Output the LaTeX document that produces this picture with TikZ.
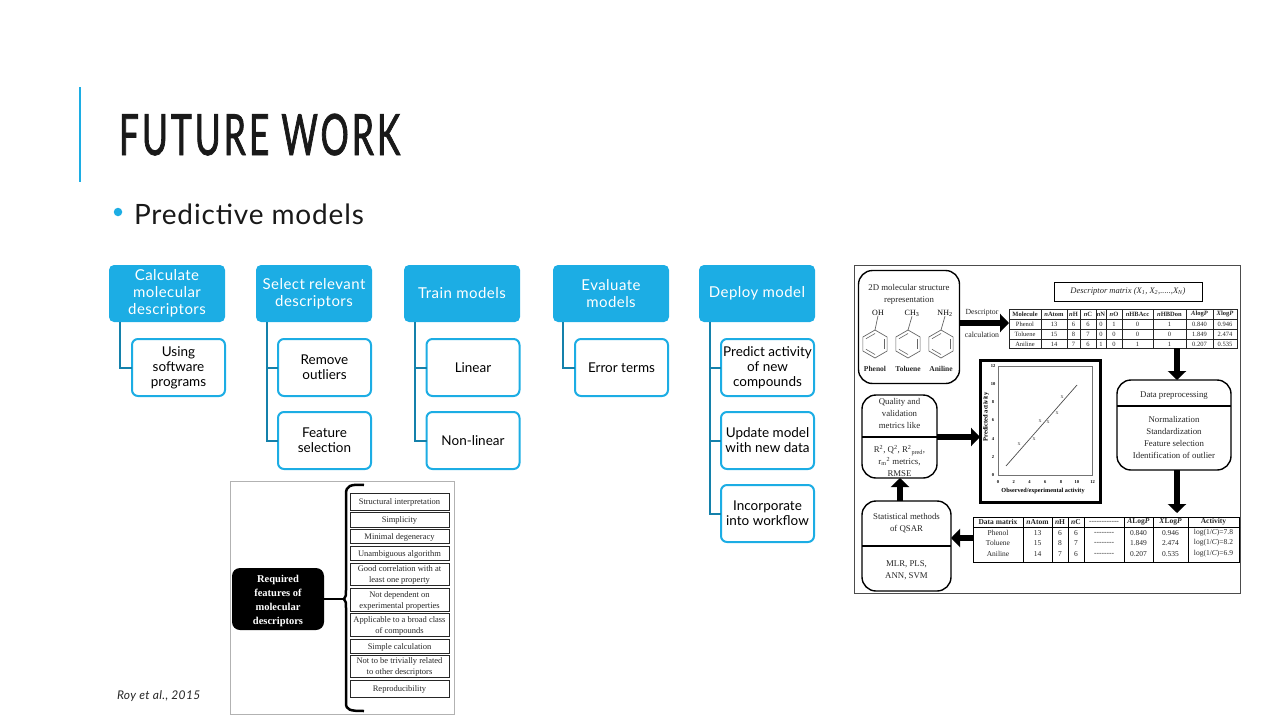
\documentclass[tikz,border=0pt]{standalone}
\usepackage{xcolor}
\usepackage{fontspec}
\usepackage{tikz}
\usetikzlibrary{arrows.meta,positioning,shapes.geometric}

\setmainfont{Lato}
\newfontfamily\titlefont[FakeStretch=0.62,LetterSpace=5.2,FakeBold=1.2]{Lato}
\newfontfamily\spacefont[LetterSpace=3]{Lato}
\newfontfamily\figfont{Liberation Serif}
\definecolor{skyblue}{HTML}{1CADE4}
\definecolor{linkblue}{HTML}{1481AB}
\definecolor{figink}{HTML}{262626}

\newcommand{\px}[2]{\fontsize{#1}{#2}\selectfont}

\begin{document}
\begin{tikzpicture}[x=1pt, y=-1pt, inner sep=0pt, outer sep=0pt,
    head/.style={rectangle, fill=skyblue, rounded corners=5pt, minimum width=116pt, minimum height=57pt,
        text=white, align=center, font=\spacefont\px{15}{17}},
    child/.style={rectangle, draw=skyblue, line width=2pt, fill=white, rounded corners=6pt, minimum width=93pt,
        minimum height=57pt, align=center, font=\px{13.5}{15}},
    link/.style={draw=linkblue, line width=2pt},
    feat/.style={rectangle, draw=figink, line width=0.8pt, minimum width=99pt},
    feattxt/.style={align=center, text=figink, font=\figfont\px{8.5}{11}},
    flow/.style={rectangle, draw=black, line width=1.4pt, rounded corners=14pt},
    figtext/.style={align=center, text=figink, font=\figfont\px{8.8}{12}},
    cell/.style={text=figink, font=\figfont\px{7.5}{9}},
    bar/.style={draw=black, line width=2pt},
    fat/.style={draw=black, line width=6.5pt, -{Triangle[width=18pt,length=9pt]}}]

    \useasboundingbox (0,0) rectangle (1280,720);

    % title
    \draw[draw=skyblue, line width=2pt] (80,87) coordinate (bartop) -- (80,182) coordinate (barend);
    \node[anchor=base west, font=\titlefont\px{57}{60}, text=black!90] (title) at (119,155) {FUTURE WORK};
    \node[circle, fill=skyblue, minimum size=8.5pt] (dot) at (118,212) {};
    \node[anchor=base west, font=\spacefont\px{28}{30}, text=black!90] (sub) at (134,224) {Predictive models};

    % head row
    \node[head] (calc) at (167,293.5) {Calculate\\molecular\\descriptors};
    \node[head, right=31pt of calc] (select) {Select relevant\\descriptors};
    \node[head, right=32pt of select] (train) {Train models};
    \node[head, right=33pt of train] (eval) {Evaluate\\models};
    \node[head, right=30pt of eval] (deploy) {Deploy model};

    % child boxes
    \node[child, below=17pt of calc, xshift=11.5pt] (soft) {Using\\software\\programs};
    \node[child, below=17pt of select, xshift=10.5pt] (outl) {Remove\\outliers};
    \node[child, below=16pt of outl] (fsel) {Feature\\selection};
    \node[child, below=17pt of train, xshift=11pt] (lin) {Linear};
    \node[child, below=16pt of lin] (nonlin) {Non-linear};
    \node[child, below=17pt of eval, xshift=10.5pt] (err) {Error terms};
    \node[child, below=17pt of deploy, xshift=10.5pt] (pred) {Predict activity\\of new\\compounds};
    \node[child, below=16pt of pred] (upd) {Update model\\with new data};
    \node[child, below=16pt of upd] (incorp) {Incorporate\\into workflow};

    \draw[link] ([xshift=11pt]calc.south west) |- (soft.west);
    \draw[link] ([xshift=11pt]select.south west) |- (outl.west);
    \draw[link] ([xshift=11pt]select.south west) |- (fsel.west);
    \draw[link] ([xshift=11pt]train.south west) |- (lin.west);
    \draw[link] ([xshift=11pt]train.south west) |- (nonlin.west);
    \draw[link] ([xshift=10pt]eval.south west) |- (err.west);
    \draw[link] ([xshift=11pt]deploy.south west) |- (pred.west);
    \draw[link] ([xshift=11pt]deploy.south west) |- (upd.west);
    \draw[link] ([xshift=11pt]deploy.south west) |- (incorp.west);

    % required features figure
    \node[rectangle, draw=black!30, line width=1pt, minimum width=224pt, minimum height=233pt] (leftfig) at (342,597.5) {};
    \node[rectangle, fill=black, rounded corners=8pt, minimum width=92pt, minimum height=62pt] (req) at (278,599) {};
    \node[text=white, align=center, font=\figfont\bfseries\px{10.5}{14}] (reqtxt) at (278,600.5)
        {Required\\features of\\molecular\\descriptors};
    \foreach \yc/\hh/\txt [count=\n] in {501.5/17/Structural interpretation, 519.5/15/Simplicity, 536/14/Minimal degeneracy,
        553/14/Unambiguous algorithm, 574/22/{Good correlation with at\\least one property},
        599.5/23/{Not dependent on\\experimental properties}, 624.5/23/{Applicable to a broad class\\of compounds},
        646/14/Simple calculation, 666/22/{Not to be trivially related\\to other descriptors}, 688.5/17/Reproducibility} {
        \node[feat, minimum height=\hh pt] (feat\n) at (399.5,\yc) {};
        \node[feattxt] (ftxt\n) at (399.5,\yc+1) {\txt};
    }
    \coordinate (tip) at (344,599);
    \draw[black, line width=2.5pt] (tip) ++(20,-114) .. controls (350,484) and (346,486) .. (346,494) -- (346,590)
        .. controls (346,596) .. (tip) .. controls (346,602) .. (346,608) -- (346,703)
        .. controls (346,710) and (350,711) .. (364,711);
    \draw[black, line width=2.5pt] (req.east) -- (tip);

    % qsar workflow figure
    \node[rectangle, draw=black!70, line width=1.8pt, minimum width=386pt, minimum height=328pt] (rightfig) at (1047.5,429.5) {};

    \node[flow, minimum width=101pt, minimum height=113pt] (mol) at (909,327) {};
    \node[figtext] (moltxt) at (909,294) {2D molecular structure\\representation};
    \foreach \xc/\sx/\sub/\nm [count=\n] in {875/878/OH/Phenol, 908/912/CH\textsubscript{3}/Toluene, 941/945/NH\textsubscript{2}/Aniline} {
        \node[regular polygon, regular polygon sides=6, shape border rotate=30, draw=black!60, line width=0.7pt,
            minimum size=28pt] (ring\n) at (\xc,344) {};
        \node[figtext, text=black, font=\figfont\px{8}{10}] (sub\n) at (\sx,313) {\sub};
        \draw[black!60, line width=0.7pt] (ring\n.north) -- (sub\n.south);
        \foreach \aa/\bb in {-30/30, 90/150, 210/270}
            \draw[black!60, line width=0.6pt] ([shift={(\aa:10.5)}]ring\n.center) -- ([shift={(\bb:10.5)}]ring\n.center);
        \node[cell, font=\figfont\bfseries\px{7.5}{9}] (name\n) at (\xc,369) {\nm};
    }

    \node[rectangle, draw=black, line width=1pt, minimum width=148pt, minimum height=19pt, text=figink,
        font=\figfont\itshape\px{8.5}{10}] (matrix) at (1128,291.5)
        {Descriptor matrix (X\textsubscript{1}, X\textsubscript{2},.....,X\textsubscript{N})};
    \node[figtext, font=\figfont\px{7.8}{10}] (desca) at (982,313) {Descriptor};
    \node[figtext, font=\figfont\px{7.8}{10}] (descb) at (982,335) {calculation};

    % first table
    \node[rectangle, draw=figink, line width=0.8pt, minimum width=228pt, minimum height=39pt] (tabone) at (1123,328.5) {};
    \foreach \xv in {1041,1067,1080,1096,1106,1122,1153,1186,1213}
        \draw[figink, line width=0.5pt] (tabone.north -| \xv,0) -- (tabone.south -| \xv,0);
    \foreach \yv in {319,329,339}
        \draw[figink, line width=0.5pt] (tabone.west |- 0,\yv) -- (tabone.east |- 0,\yv);
    \foreach \xc/\ca/\cb/\cc/\cd [count=\n] in {1025/\textbf{Molecule}/Phenol/Toluene/Aniline,
        1054/\textbf{\textit{n}Atom}/13/15/14, 1073.5/\textbf{\textit{n}H}/6/8/7, 1088/\textbf{\textit{n}C}/6/7/6,
        1101/\textbf{\textit{n}N}/0/0/1, 1114/\textbf{\textit{n}O}/1/0/0, 1137.5/\textbf{\textit{n}HBAcc}/0/0/1,
        1169.5/\textbf{\textit{n}HBDon}/1/0/1, 1199.5/\textbf{\textit{A}log\textit{P}}/0.840/1.849/0.207,
        1225/\textbf{\textit{X}log\textit{P}}/0.946/2.474/0.535} {
        \node[cell, font=\figfont\px{6.5}{8}] (one\n a) at (\xc,314) {\ca};
        \node[cell, font=\figfont\px{6.5}{8}] (one\n b) at (\xc,324) {\cb};
        \node[cell, font=\figfont\px{6.5}{8}] (one\n c) at (\xc,334) {\cc};
        \node[cell, font=\figfont\px{6.5}{8}] (one\n d) at (\xc,344) {\cd};
    }

    % plot
    \node[rectangle, draw=black, line width=3pt, minimum width=120pt, minimum height=142pt] (plot) at (1040,431) {};
    \node[rectangle, draw=black!55, line width=0.6pt, minimum width=94pt, minimum height=109pt] (axes) at (1045,420.5) {};
    \foreach \v [evaluate=\v as \xv using 998+\v*7.88, evaluate=\v as \yv using 475-\v*9.08] in {0,2,4,6,8,10,12} {
        \node[font=\figfont\bfseries\px{4.5}{5}] (xt\v) at (\xv,482) {\v};
        \node[font=\figfont\bfseries\px{4.5}{5}] (yt\v) at (993,\yv) {\v};
    }
    \coordinate (fita) at (1006,466);
    \coordinate (fitb) at (1077,385);
    \draw[black!70, line width=0.7pt] (fita) -- (fitb);
    \foreach \xv/\yv [count=\n] in {1019/444, 1034/439, 1040/421, 1048/422, 1057/413, 1062/397}
        \node[font=\figfont\px{6}{6}, text=black!70] (pt\n) at (\xv,\yv) {x};
    \node[font=\figfont\bfseries\px{6.5}{7}, rotate=90] (ylab) at (986,417) {Predicted activity};
    \node[font=\figfont\bfseries\px{6.2}{7}] (xlab) at (1043,491) {Observed/experimental activity};

    % quality box
    \node[flow, minimum width=75pt, minimum height=83pt] (qual) at (899.5,436.5) {};
    \node[figtext] (qualt) at (899.5,413) {Quality and\\validation\\metrics like};
    \draw[bar] (qual.west |- 0,437) -- (qual.east |- 0,437);
    \node[figtext] (qualb) at (899.5,461)
        {R\textsuperscript{2}, Q\textsuperscript{2}, R\textsuperscript{2}\textsubscript{pred},\\r\textsubscript{m}\textsuperscript{2} metrics,\\RMSE};

    % preprocessing box
    \node[flow, minimum width=114pt, minimum height=90pt] (prep) at (1174,425) {};
    \node[figtext] (prept) at (1174,396) {Data preprocessing};
    \draw[bar] (prep.west |- 0,406) -- (prep.east |- 0,406);
    \node[figtext] (prepb) at (1174,437) {Normalization\\Standardization\\Feature selection\\Identification of outlier};

    % stats box
    \node[flow, minimum width=89pt, minimum height=90pt] (stat) at (906.5,546) {};
    \node[figtext] (statt) at (906.5,523) {Statistical methods\\of QSAR};
    \draw[bar] (stat.west |- 0,546) -- (stat.east |- 0,546);
    \node[figtext] (statb) at (906.5,570.5) {MLR, PLS,\\ANN, SVM};

    % second table
    \node[rectangle, draw=black, line width=0.9pt, minimum width=266pt, minimum height=45pt] (tabtwo) at (1106,539.5) {};
    \foreach \xv in {1023,1052,1068,1084,1124,1153,1188}
        \draw[black, line width=0.8pt] (tabtwo.north -| \xv,0) -- (tabtwo.south -| \xv,0);
    \draw[black, line width=0.8pt] (tabtwo.west |- 0,527) -- (tabtwo.east |- 0,527);
    \foreach \xc/\ca/\cb/\cc/\cd [count=\n] in {998/\textbf{Data matrix}/Phenol/Toluene/Aniline,
        1037.5/\textbf{\textit{n}Atom}/13/15/14, 1060/\textbf{\textit{n}H}/6/8/7, 1076/\textbf{\textit{n}C}/6/7/6,
        1104/{------------}/{--------}/{--------}/{--------}, 1138.5/\textbf{\textit{A}Log\textit{P}}/0.840/1.849/0.207,
        1170.5/\textbf{\textit{X}Log\textit{P}}/0.946/2.474/0.535,
        1213.5/\textbf{Activity}/{log(1/\textit{C})=7.8}/{log(1/\textit{C})=8.2}/{log(1/\textit{C})=6.9}} {
        \node[cell] (two\n a) at (\xc,522) {\ca};
        \node[cell] (two\n b) at (\xc,533) {\cb};
        \node[cell] (two\n c) at (\xc,543) {\cc};
        \node[cell] (two\n d) at (\xc,554) {\cd};
    }

    % workflow arrows
    \draw[fat] (mol.east |- 0,323) -- (tabone.west |- 0,323);
    \draw[fat] (tabone.south -| 1177,0) -- (prep.north -| 1177,0);
    \draw[fat] (prep.south -| 1177,0) -- ([yshift=4pt]tabtwo.north -| 1177,0);
    \draw[fat] (tabtwo.west |- 0,538) -- (stat.east |- 0,538);
    \draw[fat] (stat.north -| 900,0) -- (qual.south -| 900,0);
    \draw[fat] (qual.east |- 0,437) -- (plot.west |- 0,437);

    \node[anchor=base west, font=\spacefont\itshape\px{12}{13}, text=black!85] (cite) at (117,699) {Roy et al., 2015};
\end{tikzpicture}
\end{document}
